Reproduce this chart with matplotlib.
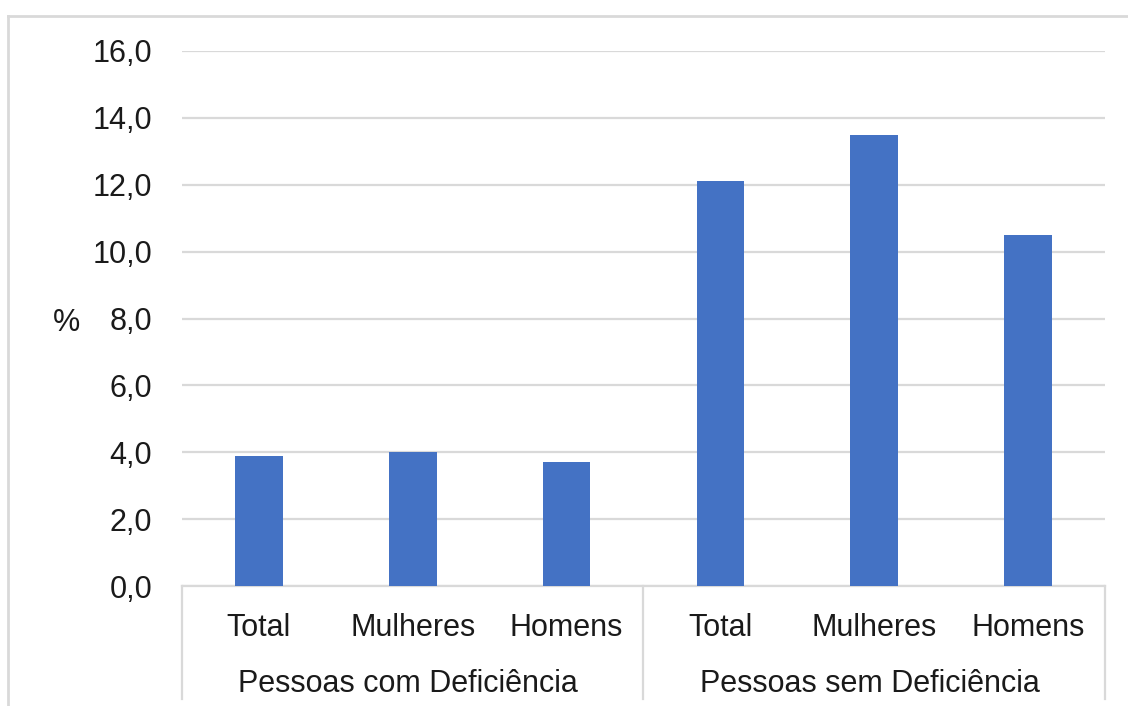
import matplotlib.pyplot as plt
from matplotlib.lines import Line2D
from matplotlib.transforms import blended_transform_factory
import numpy as np

# data
groups = ['Pessoas com Deficiência', 'Pessoas sem Deficiência']
categories = ['Total', 'Mulheres', 'Homens', 'Total', 'Mulheres', 'Homens']
values = [3.9, 4.0, 3.7, 12.1, 13.5, 10.5]
yticks = [0, 2, 4, 6, 8, 10, 12, 14, 16]

plt.rcParams['font.family'] = ['Liberation Sans', 'DejaVu Sans']
W, H = 1128, 706
fig = plt.figure(figsize=(W / 100, H / 100), dpi=100)
fig.patch.set_facecolor('white')

# axes placed in pixel terms
left, right, top, bottom = 182, 1105, 51, 586
ax = fig.add_axes([left / W, (H - bottom) / H, (right - left) / W, (bottom - top) / H])

x = np.arange(len(values))
ax.bar(x, values, width=0.31, color='#4472C4', zorder=3)

fs = 22
ax.set_xlim(-0.5, len(values) - 0.5)
ax.set_ylim(0, 16)
ax.set_yticks(yticks)
ax.set_yticklabels([f'{v:.1f}'.replace('.', ',') for v in yticks], fontsize=fs, color='#1a1a1a')
ax.tick_params(axis='y', length=0, pad=21.5)
ax.set_xticks([])
ax.yaxis.grid(True, color='#d9d9d9', linewidth=1.6, zorder=0)
for s in ['top', 'right', 'left']:
    ax.spines[s].set_visible(False)
ax.spines['bottom'].set_color('#d9d9d9')
ax.spines['bottom'].set_linewidth(1.6)

ax.set_ylabel('%', rotation=0, fontsize=fs, color='#1a1a1a', labelpad=0, va='center')
ax.yaxis.set_label_coords(-0.125, 0.492)

# two-level category axis
trans = blended_transform_factory(ax.transData, ax.transAxes)
y_cat = (bottom - 628) / (bottom - top)
y_grp = (bottom - 684) / (bottom - top)
y_end = (bottom - 699) / (bottom - top)
for xi, lab in zip(x, categories):
    ax.text(xi, y_cat, lab, transform=trans, ha='center', va='center',
            fontsize=fs, color='#1a1a1a')
n_per = len(categories) // len(groups)
for gi, g in enumerate(groups):
    xc = gi * n_per + (n_per - 1) / 2 - 0.03
    ax.text(xc, y_grp, g, transform=trans, ha='center', va='center',
            fontsize=fs, color='#1a1a1a')
for xd in np.arange(len(groups) + 1) * n_per - 0.5:
    ax.add_line(Line2D([xd, xd], [0, y_end], transform=trans, color='#d9d9d9',
                       linewidth=1.6, clip_on=False))

# outer chart border (partially cropped in the reference)
fig.add_artist(Line2D([8 / W, 1], [(H - 16) / H] * 2, color='#d9d9d9', linewidth=2))
fig.add_artist(Line2D([8 / W] * 2, [0, (H - 16) / H], color='#d9d9d9', linewidth=2))

fig.savefig('out.png', dpi=100)
